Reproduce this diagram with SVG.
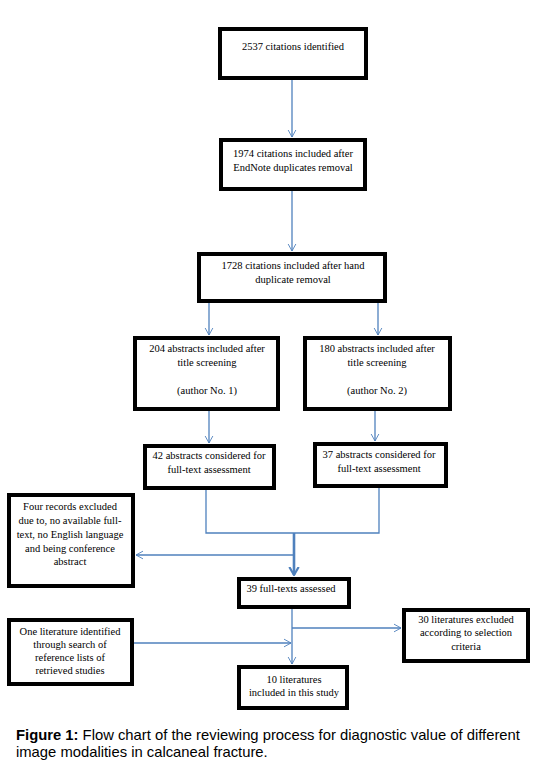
<svg xmlns="http://www.w3.org/2000/svg" width="535" height="770" viewBox="0 0 535 770">
<style>
.box{fill:#fff;stroke:#000;stroke-width:4}
.t{font-family:"Liberation Serif","Times New Roman",serif;font-size:10.5px;fill:#000;text-anchor:middle}
.c{fill:none;stroke:#4F81BD;stroke-width:1.3}
.ct{fill:none;stroke:#4F81BD;stroke-width:2.6}
.cap{font-family:"Liberation Sans",Arial,sans-serif;font-size:14.8px;fill:#000}
</style>
<defs>
<marker id="ah" viewBox="0 0 10 12" markerUnits="userSpaceOnUse" markerWidth="7" markerHeight="10" refX="10" refY="6" orient="auto">
<path d="M0,0.5 L10,6 L0,11.5" fill="none" stroke="#4F81BD" stroke-width="1.3"/>
</marker>
<marker id="ahb" viewBox="0 0 10 12" markerUnits="userSpaceOnUse" markerWidth="9" markerHeight="12" refX="9" refY="6" orient="auto">
<path d="M0,0.8 L9,6 L0,11.2" fill="none" stroke="#4F81BD" stroke-width="2.4"/>
</marker>
</defs>
<rect width="535" height="770" fill="#fff"/>
<g id="connectors">
<line class="c" x1="292" y1="80" x2="292" y2="137" marker-end="url(#ah)"/>
<line class="c" x1="292" y1="191" x2="292" y2="251" marker-end="url(#ah)"/>
<line class="c" x1="209" y1="303" x2="209" y2="335" marker-end="url(#ah)"/>
<line class="c" x1="378" y1="303" x2="378" y2="335" marker-end="url(#ah)"/>
<line class="c" x1="209" y1="411" x2="209" y2="443" marker-end="url(#ah)"/>
<line class="c" x1="375" y1="411" x2="375" y2="441" marker-end="url(#ah)"/>
<polyline class="c" points="206,490 206,533 379,533 379,488"/>
<line class="ct" x1="294" y1="533" x2="294" y2="575" marker-end="url(#ahb)"/>
<line class="c" x1="294" y1="555" x2="136" y2="555" marker-end="url(#ah)"/>
<line class="c" x1="292" y1="609" x2="292" y2="664" marker-end="url(#ah)"/>
<line class="c" x1="292" y1="628" x2="401" y2="628" marker-end="url(#ah)"/>
<line class="c" x1="134" y1="643" x2="291" y2="643" marker-end="url(#ah)"/>
</g>
<g id="n1">
<rect class="box" x="220" y="29" width="146" height="49"/>
<text class="t" x="293" y="50">2537 citations identified</text>
</g>
<g id="n2">
<rect class="box" x="221" y="140" width="144" height="49"/>
<text class="t" x="293" y="157">1974 citations included after</text>
<text class="t" x="293" y="171">EndNote duplicates removal</text>
</g>
<g id="n3">
<rect class="box" x="199" y="254" width="186" height="47"/>
<text class="t" x="293" y="269">1728 citations included after hand</text>
<text class="t" x="293" y="283">duplicate removal</text>
</g>
<g id="n4">
<rect class="box" x="135" y="338" width="143" height="71"/>
<text class="t" x="207" y="352">204 abstracts included after</text>
<text class="t" x="207" y="366">title screening</text>
<text class="t" x="207" y="394">(author No. 1)</text>
</g>
<g id="n5">
<rect class="box" x="305" y="338" width="145" height="71"/>
<text class="t" x="377" y="352">180 abstracts included after</text>
<text class="t" x="377" y="366">title screening</text>
<text class="t" x="377" y="394">(author No. 2)</text>
</g>
<g id="n6">
<rect class="box" x="145" y="446" width="129" height="42"/>
<text class="t" x="209" y="459">42 abstracts considered for</text>
<text class="t" x="209" y="473">full-text assessment</text>
</g>
<g id="n7">
<rect class="box" x="315" y="444" width="131" height="42"/>
<text class="t" x="379" y="458">37 abstracts considered for</text>
<text class="t" x="379" y="472">full-text assessment</text>
</g>
<g id="n8">
<rect class="box" x="9" y="495" width="124" height="91"/>
<text class="t" x="70" y="510">Four records excluded</text>
<text class="t" x="70" y="524">due to, no available full-</text>
<text class="t" x="70" y="538">text, no English language</text>
<text class="t" x="70" y="552">and being conference</text>
<text class="t" x="70" y="565">abstract</text>
</g>
<g id="n9">
<rect class="box" x="239" y="579" width="110" height="28"/>
<text class="t" x="291" y="592">39 full-texts assessed</text>
</g>
<g id="n10">
<rect class="box" x="404" y="610" width="124" height="51"/>
<text class="t" x="466" y="623">30 literatures excluded</text>
<text class="t" x="466" y="636">according to selection</text>
<text class="t" x="466" y="650">criteria</text>
</g>
<g id="n11">
<rect class="box" x="9" y="620" width="123" height="64"/>
<text class="t" x="70" y="635">One literature identified</text>
<text class="t" x="70" y="648">through search of</text>
<text class="t" x="70" y="661">reference lists of</text>
<text class="t" x="70" y="674">retrieved studies</text>
</g>
<g id="n12">
<rect class="box" x="239" y="667" width="108" height="41"/>
<text class="t" x="294" y="683">10 literatures</text>
<text class="t" x="294" y="696">included in this study</text>
</g>
<g id="caption">
<text class="cap" x="16" y="740"><tspan font-weight="bold">Figure 1:</tspan> Flow chart of the reviewing process for diagnostic value of different</text>
<text class="cap" x="16" y="757">image modalities in calcaneal fracture.</text>
</g>
</svg>
